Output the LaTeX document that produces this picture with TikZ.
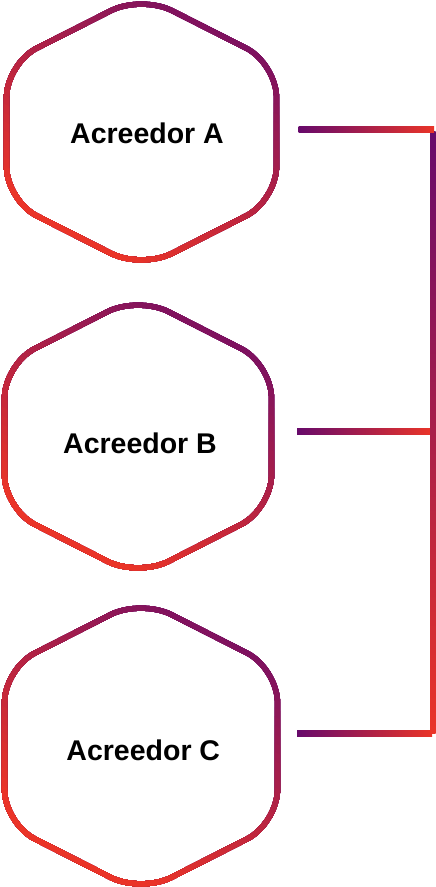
\documentclass[tikz,border=0pt]{standalone}
\usepackage{fontspec}
\setmainfont{Liberation Sans}
\usetikzlibrary{calc}
\definecolor{purp}{RGB}{103,10,107}
\definecolor{redc}{RGB}{234,52,40}
\tikzset{
  hexline/.style={line width=5.3pt, rounded corners=34pt, line join=round},
  lbl/.style={font=\bfseries\fontsize{28.5}{32}\selectfont, text=black, inner sep=0pt, anchor=base},
}
% #1 cx, #2 cy, #3 half width, #4 half height (sharp vertex), #5 side vertex offset
\newcommand\hexoutline[6]{%
  \draw[hexline, draw=#6] ({#1-#3},{#2}) -- ({#1-#3},{#2-#5}) -- ({#1},{#2-#4})
    -- ({#1+#3},{#2-#5}) -- ({#1+#3},{#2+#5}) -- ({#1},{#2+#4})
    -- ({#1-#3},{#2+#5}) -- cycle;}
\newcommand\gradhex[5]{%
  \hexoutline{#1}{#2}{#3}{#4}{#5}{purp}%
  \foreach \i in {1,...,40}{%
    \pgfmathsetmacro\pp{\i*7.5-3.75}%
    \pgfmathsetmacro\qq{\pp+2000}%
    \pgfmathsetmacro\ff{100*\i/40}%
    \pgfmathsetmacro\xo{#1+#3}%
    \pgfmathsetmacro\yo{#2-#4+8}%
    \begin{scope}
      \clip ({\xo-0.53*\pp-850},{\yo+0.85*\pp-530})
        -- ({\xo-0.53*\pp+850},{\yo+0.85*\pp+530})
        -- ({\xo-0.53*\qq+850},{\yo+0.85*\qq+530})
        -- ({\xo-0.53*\qq-850},{\yo+0.85*\qq-530}) -- cycle;
      \colorlet{cc}{redc!\ff!purp}%
      \hexoutline{#1}{#2}{#3}{#4}{#5}{cc}%
    \end{scope}
  }%
}
\begin{document}
\begin{tikzpicture}[x=1pt,y=-1pt]
  \useasboundingbox (0,0) rectangle (436,887);
  % hexagon outlines
  \gradhex{141.5}{132}{135}{136.8}{68.5}
  \gradhex{138}{436.5}{133.5}{140.3}{72.5}
  \gradhex{141}{746}{136.5}{146.8}{77.5}
  % labels
  \node[lbl] (A) at (147,143.3) {Acreedor A};
  \node[lbl] (B) at (140,453.3) {Acreedor B};
  \node[lbl] (C) at (143.3,760.6) {Acreedor C};
  % connector end points
  \coordinate (A1) at (298.5,129.2);
  \coordinate (A2) at (434,129.2);
  \coordinate (B1) at (297,431.3);
  \coordinate (B2) at (431,431.3);
  \coordinate (C1) at (297,733);
  \coordinate (C2) at (432,733);
  \coordinate (V1) at (433,131);
  \coordinate (V2) at (433,733);
  % connectors
  \shade[left color=purp, right color=redc] ($(B1)+(0,-3)$) rectangle ($(B2)+(0,3)$);
  \shade[left color=purp, right color=redc] ($(C1)+(0,-3)$) rectangle ($(C2)+(0,3)$);
  \shade[top color=purp, bottom color=redc] ($(V1)+(-2.7,0)$) rectangle ($(V2)+(2.7,0)$);
  \shade[left color=purp, right color=redc] ($(A1)+(0,-3)$) rectangle ($(A2)+(0,3)$);
\end{tikzpicture}
\end{document}
